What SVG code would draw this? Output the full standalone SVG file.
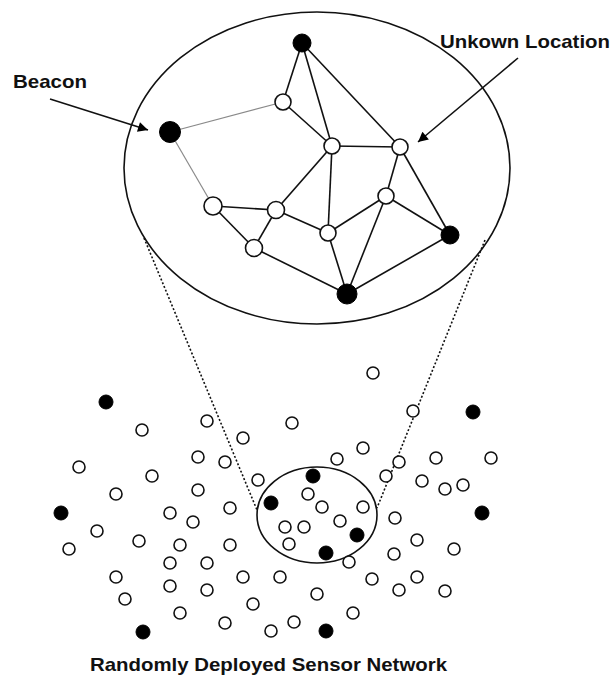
<svg xmlns="http://www.w3.org/2000/svg" width="612" height="675" viewBox="0 0 612 675">
<style>
.bg{fill:#fff}
.ell{fill:none;stroke:#111;stroke-width:1.6}
.e{stroke:#111;stroke-width:1.6;fill:none}
.eg{stroke:#8a8a8a;stroke-width:1.2;fill:none}
.dot{stroke:#111;stroke-width:1.6;stroke-dasharray:2 2;fill:none}
.arr{stroke:#111;stroke-width:1.6;fill:none}
.w{fill:#fff;stroke:#111;stroke-width:1.6}
.b{fill:#000;stroke:#000;stroke-width:1}
.lbl{font-family:"Liberation Sans",Arial,sans-serif;font-weight:bold;font-size:19px;fill:#111}
</style>
<defs>
<marker id="ah" viewBox="0 0 10 10" refX="10" refY="5" markerWidth="17" markerHeight="10" markerUnits="userSpaceOnUse" orient="auto">
<path d="M0,0 L10,5 L0,10 z" fill="#000"/>
</marker>
</defs>
<rect class="bg" x="0" y="0" width="612" height="675"/>

<g id="connectors">
<!-- zoom lines -->
<line class="dot" x1="144" y1="238" x2="257" y2="510"/>
<line class="dot" x1="485" y1="240" x2="377" y2="508"/>
<!-- graph edges -->
<line class="e" x1="302" y1="43" x2="283" y2="102"/>
<line class="e" x1="302" y1="43" x2="332" y2="146"/>
<line class="e" x1="302" y1="43" x2="400" y2="147"/>
<line class="eg" x1="170" y1="132" x2="283" y2="102"/>
<line class="eg" x1="170" y1="132" x2="213" y2="206"/>
<line class="e" x1="283" y1="102" x2="332" y2="146"/>
<line class="e" x1="332" y1="146" x2="400" y2="147"/>
<line class="e" x1="332" y1="146" x2="276" y2="210"/>
<line class="e" x1="332" y1="146" x2="328" y2="233"/>
<line class="e" x1="400" y1="147" x2="386" y2="196"/>
<line class="e" x1="400" y1="147" x2="450" y2="235"/>
<line class="e" x1="213" y1="206" x2="276" y2="210"/>
<line class="e" x1="213" y1="206" x2="254" y2="248"/>
<line class="e" x1="276" y1="210" x2="254" y2="248"/>
<line class="e" x1="276" y1="210" x2="328" y2="233"/>
<line class="e" x1="328" y1="233" x2="386" y2="196"/>
<line class="e" x1="328" y1="233" x2="347" y2="294"/>
<line class="e" x1="386" y1="196" x2="347" y2="294"/>
<line class="e" x1="386" y1="196" x2="450" y2="235"/>
<line class="e" x1="254" y1="248" x2="347" y2="294"/>
<line class="e" x1="450" y1="235" x2="347" y2="294"/>
<!-- label arrows -->
<line class="arr" x1="50" y1="99" x2="148" y2="130" marker-end="url(#ah)"/>
<line class="arr" x1="518" y1="58" x2="418" y2="142" marker-end="url(#ah)"/>
</g>

<g id="zoom-ellipse"><ellipse class="ell" cx="317" cy="168" rx="193" ry="156"/></g>
<g id="region-ellipse"><ellipse class="ell" cx="317" cy="515" rx="60" ry="48"/></g>

<!-- graph nodes -->
<g id="gA"><circle class="b" cx="302" cy="43" r="9"/></g>
<g id="gBeacon"><circle class="b" cx="170" cy="132" r="10.5"/></g>
<g id="gC"><circle class="w" cx="283" cy="102" r="8"/></g>
<g id="gD"><circle class="w" cx="332" cy="146" r="8"/></g>
<g id="gE"><circle class="w" cx="400" cy="147" r="8"/></g>
<g id="gF"><circle class="w" cx="213" cy="206" r="9"/></g>
<g id="gG"><circle class="w" cx="276" cy="210" r="8.5"/></g>
<g id="gH"><circle class="w" cx="254" cy="248" r="8.5"/></g>
<g id="gI"><circle class="w" cx="328" cy="233" r="8"/></g>
<g id="gJ"><circle class="w" cx="386" cy="196" r="8"/></g>
<g id="gK"><circle class="b" cx="450" cy="235" r="9"/></g>
<g id="gL"><circle class="b" cx="347" cy="294" r="10"/></g>

<!-- scattered sensors: beacons -->
<g id="s-b1"><circle class="b" cx="106" cy="402" r="7"/></g>
<g id="s-b2"><circle class="b" cx="473" cy="412" r="7"/></g>
<g id="s-b3"><circle class="b" cx="313" cy="476" r="7"/></g>
<g id="s-b4"><circle class="b" cx="271" cy="503" r="7"/></g>
<g id="s-b5"><circle class="b" cx="61" cy="513" r="7"/></g>
<g id="s-b6"><circle class="b" cx="482" cy="513" r="7"/></g>
<g id="s-b7"><circle class="b" cx="357" cy="535" r="7"/></g>
<g id="s-b8"><circle class="b" cx="326" cy="553" r="7"/></g>
<g id="s-b9"><circle class="b" cx="143" cy="632" r="7"/></g>
<g id="s-b10"><circle class="b" cx="326" cy="631" r="7"/></g>

<!-- scattered sensors: unknown -->
<g id="s1"><circle class="w" cx="373" cy="373" r="6"/></g>
<g id="s2"><circle class="w" cx="413" cy="411" r="6"/></g>
<g id="s3"><circle class="w" cx="207" cy="421" r="6"/></g>
<g id="s4"><circle class="w" cx="292" cy="423" r="6"/></g>
<g id="s5"><circle class="w" cx="142" cy="430" r="6"/></g>
<g id="s6"><circle class="w" cx="243" cy="438" r="6"/></g>
<g id="s7"><circle class="w" cx="363" cy="448" r="6"/></g>
<g id="s8"><circle class="w" cx="198" cy="457" r="6"/></g>
<g id="s9"><circle class="w" cx="337" cy="459" r="6"/></g>
<g id="s10"><circle class="w" cx="436" cy="458" r="6"/></g>
<g id="s11"><circle class="w" cx="491" cy="458" r="6"/></g>
<g id="s12"><circle class="w" cx="225" cy="462" r="6"/></g>
<g id="s13"><circle class="w" cx="399" cy="462" r="6"/></g>
<g id="s14"><circle class="w" cx="79" cy="467" r="6"/></g>
<g id="s15"><circle class="w" cx="152" cy="476" r="6"/></g>
<g id="s16"><circle class="w" cx="386" cy="476" r="6"/></g>
<g id="s17"><circle class="w" cx="258" cy="480" r="6"/></g>
<g id="s18"><circle class="w" cx="422" cy="481" r="6"/></g>
<g id="s19"><circle class="w" cx="463" cy="485" r="6"/></g>
<g id="s20"><circle class="w" cx="445" cy="489" r="6"/></g>
<g id="s21"><circle class="w" cx="198" cy="490" r="6"/></g>
<g id="s22"><circle class="w" cx="116" cy="494" r="6"/></g>
<g id="s23"><circle class="w" cx="308" cy="494" r="6"/></g>
<g id="s24"><circle class="w" cx="230" cy="508" r="6"/></g>
<g id="s25"><circle class="w" cx="322" cy="507" r="6"/></g>
<g id="s26"><circle class="w" cx="363" cy="507" r="6"/></g>
<g id="s27"><circle class="w" cx="170" cy="513" r="6"/></g>
<g id="s28"><circle class="w" cx="395" cy="518" r="6"/></g>
<g id="s29"><circle class="w" cx="193" cy="522" r="6"/></g>
<g id="s30"><circle class="w" cx="340" cy="521" r="6"/></g>
<g id="s31"><circle class="w" cx="285" cy="527" r="6"/></g>
<g id="s32"><circle class="w" cx="304" cy="527" r="6"/></g>
<g id="s33"><circle class="w" cx="97" cy="531" r="6"/></g>
<g id="s34"><circle class="w" cx="417" cy="540" r="6"/></g>
<g id="s35"><circle class="w" cx="139" cy="541" r="6"/></g>
<g id="s36"><circle class="w" cx="180" cy="545" r="6"/></g>
<g id="s37"><circle class="w" cx="230" cy="545" r="6"/></g>
<g id="s38"><circle class="w" cx="289" cy="544" r="6"/></g>
<g id="s39"><circle class="w" cx="69" cy="549" r="6"/></g>
<g id="s40"><circle class="w" cx="454" cy="549" r="6"/></g>
<g id="s41"><circle class="w" cx="394" cy="554" r="6"/></g>
<g id="s42"><circle class="w" cx="349" cy="562" r="6"/></g>
<g id="s43"><circle class="w" cx="170" cy="563" r="6"/></g>
<g id="s44"><circle class="w" cx="207" cy="563" r="6"/></g>
<g id="s45"><circle class="w" cx="116" cy="577" r="6"/></g>
<g id="s46"><circle class="w" cx="243" cy="577" r="6"/></g>
<g id="s47"><circle class="w" cx="280" cy="577" r="6"/></g>
<g id="s48"><circle class="w" cx="372" cy="579" r="6"/></g>
<g id="s49"><circle class="w" cx="417" cy="577" r="6"/></g>
<g id="s50"><circle class="w" cx="170" cy="586" r="6"/></g>
<g id="s51"><circle class="w" cx="207" cy="590" r="6"/></g>
<g id="s52"><circle class="w" cx="399" cy="590" r="6"/></g>
<g id="s53"><circle class="w" cx="445" cy="591" r="6"/></g>
<g id="s54"><circle class="w" cx="317" cy="594" r="6"/></g>
<g id="s55"><circle class="w" cx="125" cy="599" r="6"/></g>
<g id="s56"><circle class="w" cx="253" cy="604" r="6"/></g>
<g id="s57"><circle class="w" cx="180" cy="613" r="6"/></g>
<g id="s58"><circle class="w" cx="353" cy="613" r="6"/></g>
<g id="s59"><circle class="w" cx="225" cy="623" r="6"/></g>
<g id="s60"><circle class="w" cx="294" cy="622" r="6"/></g>
<g id="s61"><circle class="w" cx="271" cy="631" r="6"/></g>

<g id="labels">
<text class="lbl" x="13" y="88" textLength="74" lengthAdjust="spacingAndGlyphs">Beacon</text>
<text class="lbl" x="440" y="48" textLength="170" lengthAdjust="spacingAndGlyphs">Unkown Location</text>
<text class="lbl" x="90" y="671" textLength="357" lengthAdjust="spacingAndGlyphs">Randomly Deployed Sensor Network</text>
</g>
</svg>
